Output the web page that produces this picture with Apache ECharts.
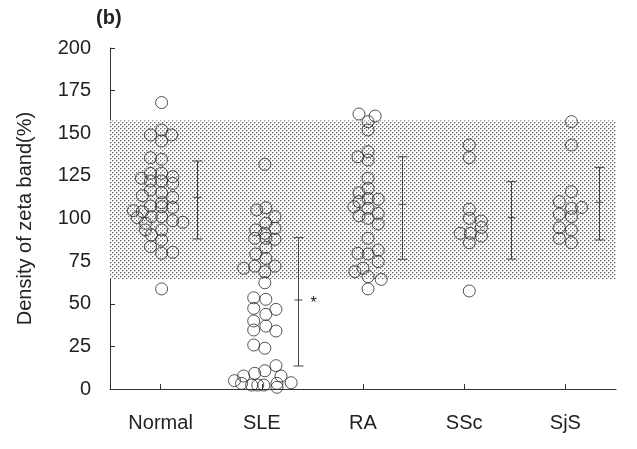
<!DOCTYPE html>
<html><head><meta charset="utf-8">
<script src="https://cdn.jsdelivr.net/npm/echarts@6/dist/echarts.min.js"></script>
<style>html,body{margin:0;padding:0;background:#fff}#c{width:637px;height:449px}</style>
</head><body><div id="c"></div><script>
const categories = ['Normal', 'SLE', 'RA', 'SSc', 'SjS'];

const normalValues = [168, 149, 151.9, 149, 145.5, 135.7, 134.7, 123.6, 126.5, 126.5, 124.5, 122, 122, 120.6, 116.7, 115.1, 113.4, 112.4, 109.3, 106.9, 107.3, 106.5, 104.6, 104, 100.5, 101.1, 101.1, 98.7, 97.8, 97.2, 93.3, 93.3, 90.3, 87.4, 83.5, 79.6, 80.2, 58.7];
const normalJitter = [0.01, -0.10, 0.01, 0.11, 0.01, -0.10, 0.01, -0.19, -0.10, 0.01, 0.12, -0.10, 0.01, 0.12, -0.10, 0.01, -0.18, 0.12, 0.01, 0.01, -0.10, 0.12, -0.27, -0.18, -0.23, -0.09, 0.01, 0.12, 0.22, -0.15, -0.15, 0.01, -0.09, 0.01, -0.10, 0.01, 0.12, 0.01];

const sleValues = [131.8, 105, 106.3, 101.1, 97.2, 93.3, 94.2, 91.3, 88.4, 88.4, 87.8, 83.1, 79.2, 76.6, 70.8, 72.1, 72.1, 68.8, 62.3, 53.5, 52.6, 47.3, 46.7, 43.8, 39.9, 34.6, 36.9, 34, 25.8, 23.9, 13.7, 10.7, 9.2, 7.6, 7.6, 4.9, 3.3, 2.3, 2.3, 2.3, 3.3, 1.0, 3.7];
const sleJitter = [0.03, -0.05, 0.04, 0.13, 0.04, -0.06, 0.13, 0.03, -0.07, 0.04, 0.13, 0.04, -0.06, 0.04, -0.18, -0.07, 0.13, 0.03, 0.03, -0.08, 0.04, -0.08, 0.14, 0.04, -0.08, -0.08, 0.04, 0.14, -0.08, 0.03, 0.14, 0.03, -0.07, -0.18, 0.19, -0.27, -0.20, -0.10, -0.04, 0.02, 0.15, 0.15, 0.29];

const raValues = [161.3, 160.1, 156.8, 151.9, 136.2, 139.2, 134.3, 123.6, 117.7, 115.1, 109.9, 111.8, 111.3, 106.9, 106, 103, 101.5, 100.1, 96.8, 88.4, 79.6, 79.2, 81.5, 74.7, 68.8, 70.8, 65.9, 64.3, 58.7];
const raJitter = [-0.04, 0.12, 0.05, 0.05, -0.05, 0.05, 0.05, 0.05, 0.05, -0.04, -0.04, 0.05, 0.15, -0.09, 0.05, 0.15, -0.04, 0.05, 0.15, 0.05, -0.05, 0.05, 0.15, 0.15, -0.08, 0.0, 0.05, 0.18, 0.05];

const sscValues = [143.1, 135.7, 105.4, 100.1, 98.5, 91.3, 91.3, 94.8, 89.7, 85.8, 57.5];
const sscJitter = [0.05, 0.05, 0.05, 0.05, 0.17, -0.04, 0.06, 0.17, 0.17, 0.05, 0.05];

const sjsValues = [156.8, 143.1, 115.7, 109.9, 106.5, 106, 102.6, 101.1, 94.6, 93.3, 88.4, 85.8];
const sjsJitter = [0.06, 0.06, 0.06, -0.06, 0.16, 0.06, -0.06, 0.06, -0.06, 0.06, -0.06, 0.06];

const means = [112.4, 52.2, 108.3, 100.5, 109.5];
const lows = [88, 13.5, 76.1, 76.2, 87.4];
const highs = [133.7, 88.8, 136.2, 121.6, 130];
const barOffsets = [0.36, 0.36, 0.39, 0.46, 0.33];
const significance = ['', '*', '', '', ''];

const refLow = 64.5, refHigh = 157.5;
const yMin = 0, yMax = 200, yStep = 25;

const groups = [
  [normalValues, normalJitter],
  [sleValues, sleJitter],
  [raValues, raJitter],
  [sscValues, sscJitter],
  [sjsValues, sjsJitter]
];

// dotted pattern for reference band
const pc = document.createElement('canvas');
pc.width = 4; pc.height = 4;
const ctx = pc.getContext('2d');
ctx.fillStyle = '#ffffff'; ctx.fillRect(0, 0, 4, 4);
ctx.fillStyle = '#c4c4c4';
ctx.fillRect(1, 0, 1, 1); ctx.fillRect(3, 2, 1, 1);
ctx.fillRect(0, 1, 1, 1); ctx.fillRect(2, 3, 1, 1);
ctx.fillStyle = '#5e5e5e'; ctx.fillRect(0, 0, 1, 1); ctx.fillRect(2, 2, 1, 1);

const FONT = '"Liberation Sans", Arial, Helvetica, sans-serif';

const scatterSeries = groups.map((g, i) => ({
  type: 'scatter',
  name: categories[i],
  xAxisIndex: 1,
  yAxisIndex: 0,
  symbol: 'circle',
  symbolSize: 12,
  silent: true,
  z: 3,
  itemStyle: { color: 'rgba(0,0,0,0)', borderColor: '#2a2a2a', borderWidth: 1 },
  data: g[0].map((v, k) => [i + g[1][k], v])
}));

scatterSeries[0].markArea = {
  silent: true,
  itemStyle: { color: { image: pc, repeat: 'repeat' } },
  data: [[{ yAxis: refLow }, { yAxis: refHigh }]]
};

const errSeries = {
  type: 'custom',
  xAxisIndex: 1,
  yAxisIndex: 0,
  silent: true,
  z: 4,
  data: means.map((m, i) => [i + barOffsets[i], m, lows[i], highs[i]]),
  renderItem: function (params, api) {
    const x = api.value(0), m = api.value(1), lo = api.value(2), hi = api.value(3);
    const pm = api.coord([x, m]), pl = api.coord([x, lo]), ph = api.coord([x, hi]);
    const cx = Math.round(pm[0]) + 0.5;
    const st = { stroke: '#444', lineWidth: 1 };
    const children = [
      { type: 'line', shape: { x1: cx, y1: pl[1], x2: cx, y2: ph[1] }, style: st },
      { type: 'line', shape: { x1: cx - 5, y1: pl[1], x2: cx + 5, y2: pl[1] }, style: st },
      { type: 'line', shape: { x1: cx - 5, y1: ph[1], x2: cx + 5, y2: ph[1] }, style: st },
      { type: 'line', shape: { x1: cx - 4, y1: pm[1], x2: cx + 4, y2: pm[1] }, style: st }
    ];
    const sig = significance[params.dataIndex];
    if (sig) {
      children.push({ type: 'text', style: { text: sig, x: cx + 15, y: pm[1] + 4, fill: '#222', font: '16px ' + FONT, align: 'center', verticalAlign: 'middle' } });
    }
    return { type: 'group', children: children };
  }
};

const chart = echarts.init(document.getElementById('c'), null, { renderer: 'canvas' });
chart.setOption({
  animation: false,
  backgroundColor: '#ffffff',
  grid: { left: 110, right: 21, top: 48, bottom: 60 },
  graphic: [{ type: 'text', left: 96, top: 8, style: { text: '(b)', font: 'bold 20px ' + FONT, fill: '#222' } }],
  xAxis: [
    {
      type: 'category',
      data: categories,
      boundaryGap: true,
      axisLine: { onZero: false, lineStyle: { color: '#333', width: 1 } },
      axisTick: { show: true, inside: true, length: 5, alignWithLabel: true, lineStyle: { color: '#333' } },
      axisLabel: { fontSize: 20, color: '#222', fontFamily: FONT, margin: 24 },
      splitLine: { show: false }
    },
    { type: 'value', min: -0.5, max: 4.5, show: false }
  ],
  yAxis: {
    type: 'value',
    min: yMin, max: yMax, interval: yStep,
    name: 'Density of zeta band(%)',
    nameLocation: 'middle',
    nameGap: 75,
    nameRotate: 90,
    nameTextStyle: { fontSize: 20, color: '#222', fontFamily: FONT },
    axisLine: { show: true, onZero: false, lineStyle: { color: '#333', width: 1 } },
    axisTick: { show: true, inside: true, length: 5, lineStyle: { color: '#333' } },
    axisLabel: { fontSize: 20, color: '#222', fontFamily: FONT, margin: 19 },
    splitLine: { show: false }
  },
  series: scatterSeries.concat([errSeries])
});
</script></body></html>
